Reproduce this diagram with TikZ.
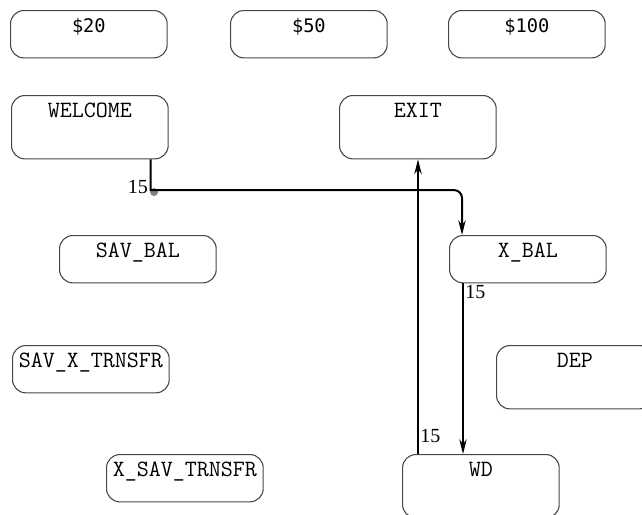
\documentclass[tikz,border=0pt]{standalone}
\usepackage{fontspec}
\usepackage{tikz}
\usetikzlibrary{arrows.meta,positioning}
\newfontfamily\cashfont{DejaVu Sans Mono}
\newfontfamily\numfont{Liberation Serif}
\definecolor{bordergray}{RGB}{70,70,70}
\definecolor{cornergray}{RGB}{130,130,130}

\tikzset{
    statebox/.style={draw=bordergray, line width=0.8pt, rounded corners=10pt, anchor=north west,
        inner sep=0pt, minimum width=117.5pt, text height=16.5pt, font=\ttfamily\fontsize{17.5}{19}\selectfont},
    smallbox/.style={statebox, text depth=19pt},
    tallbox/.style={statebox, text depth=31pt},
    cashbox/.style={smallbox, font=\cashfont\fontsize{14}{17}\selectfont},
    flow/.style={line width=1.5pt, -{Stealth[length=11pt,width=5.5pt,inset=3.5pt]}},
    count/.style={font=\numfont\fontsize{15}{17}\selectfont, inner sep=1pt}
}

\begin{document}
\begin{tikzpicture}[x=0.75pt, y=-0.75pt]
        \clip (0,0) rectangle (642,514);

        % Cash amount buttons
        \node[cashbox] (cash20) at (10,10) {\$20};
        \node[cashbox] (cash50) at (230,10) {\$50};
        \node[cashbox] (cash100) at (448,10) {\$100};

        % States
        \node[tallbox] (welcome) at (11,95) {WELCOME};
        \node[tallbox] (exit) at (339,95) {EXIT};
        \node[smallbox] (savbal) at (59,235) {SAV\_BAL};
        \node[smallbox] (xbal) at (449,235) {X\_BAL};
        \node[smallbox] (savxtrnsfr) at (12,345) {SAV\_X\_TRNSFR};
        \node[tallbox] (dep) at (496,345) {DEP};
        \node[smallbox] (xsavtrnsfr) at (106,454) {X\_SAV\_TRNSFR};
        \node[tallbox] (wd) at (402,454) {WD};

        % Transitions
        \coordinate (bend) at ([xshift=-13.5pt,yshift=-23pt]welcome.south east);
        \fill[cornergray] ([xshift=2.5pt,yshift=-1.5pt]bend) circle (3pt);
        \draw[flow] ([xshift=-13.5pt]welcome.south east) -- (bend)
            [rounded corners=6pt] -| ([xshift=9.75pt]xbal.north west);
        \node[count, anchor=east] at ([xshift=-1pt,yshift=2pt]bend) {15};

        \draw[flow] ([xshift=10.5pt]xbal.south west) -- ([xshift=45.75pt]wd.north west)
            node[pos=0, count, anchor=north west] {15};

        \draw[flow] ([xshift=12pt]wd.north west) -- ([xshift=59.25pt]exit.south west)
            node[pos=0, count, anchor=south west, yshift=7pt] {15};
    \end{tikzpicture}
\end{document}
